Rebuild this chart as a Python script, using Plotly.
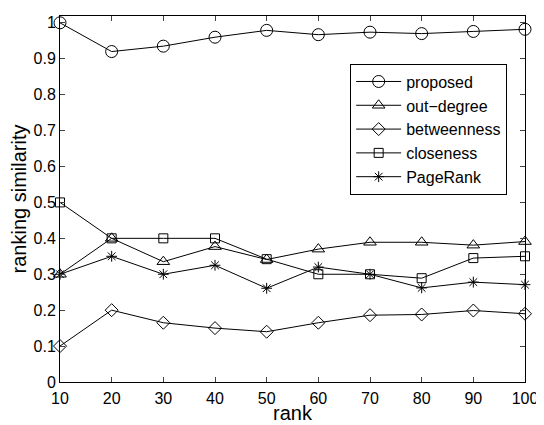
import plotly.graph_objects as go

ranks = [10, 20, 30, 40, 50, 60, 70, 80, 90, 100]
proposed = [1.0, 0.920, 0.935, 0.960, 0.979, 0.967, 0.974, 0.970, 0.976, 0.982]
out_degree = [0.30, 0.40, 0.335, 0.377, 0.341, 0.370, 0.389, 0.389, 0.381, 0.391]
betweenness = [0.10, 0.20, 0.165, 0.150, 0.140, 0.165, 0.186, 0.188, 0.199, 0.190]
closeness = [0.50, 0.40, 0.40, 0.40, 0.342, 0.30, 0.30, 0.289, 0.345, 0.350]
pagerank = [0.30, 0.35, 0.30, 0.325, 0.261, 0.320, 0.30, 0.262, 0.278, 0.271]

x_ticks = [10, 20, 30, 40, 50, 60, 70, 80, 90, 100]
y_ticks = [0, 0.1, 0.2, 0.3, 0.4, 0.5, 0.6, 0.7, 0.8, 0.9, 1]
y_tick_labels = ["0", "0.1", "0.2", "0.3", "0.4", "0.5", "0.6", "0.7", "0.8", "0.9", "1"]

series = [
    ("proposed", proposed, "circle-open", 12),
    ("out\u2212degree", out_degree, "triangle-up-open", 11),
    ("betweenness", betweenness, "diamond-open", 10),
    ("closeness", closeness, "square-open", 9),
    ("PageRank", pagerank, "asterisk-open", 9),
]

fig = go.Figure()
for name, vals, sym, size in series:
    fig.add_trace(go.Scatter(
        x=ranks, y=vals, name=name, mode="lines+markers",
        line=dict(color="black", width=1),
        marker=dict(symbol=sym, size=size, color="black",
                    line=dict(color="black", width=1)),
        cliponaxis=False,
    ))

font = "Liberation Sans, Arial, Helvetica, sans-serif"
# The page body keeps its default 8px margin, so the figure is 8px smaller
# and the margins are shifted to keep the plot area where the reference has it.
fig.update_layout(
    width=536, height=417,
    margin=dict(l=52, r=16, t=6, b=43),
    paper_bgcolor="white", plot_bgcolor="white",
    font=dict(family=font, size=16, color="black"),
    showlegend=True,
    legend=dict(
        x=0.624, y=0.87, xanchor="left", yanchor="top",
        bordercolor="black", borderwidth=1, bgcolor="white",
        font=dict(size=16, family=font), tracegroupgap=0,
        itemwidth=45,
    ),
    xaxis=dict(
        range=[10, 100], tickvals=x_ticks, ticks="inside", ticklen=5,
        showline=True, linecolor="black", linewidth=1, mirror="ticks",
        showgrid=False, zeroline=False, ticklabelstandoff=2,
        tickfont=dict(size=16),
    ),
    yaxis=dict(
        range=[0, 1.019], tickvals=y_ticks, ticktext=y_tick_labels,
        ticks="inside", ticklen=5,
        showline=True, linecolor="black", linewidth=1, mirror="ticks",
        showgrid=False, zeroline=False,
        title=dict(text="ranking similarity", font=dict(size=20), standoff=2),
        tickfont=dict(size=16),
    ),
    annotations=[dict(
        text="rank", xref="paper", yref="paper", x=0.5, y=-0.084,
        xanchor="center", yanchor="middle", showarrow=False,
        font=dict(size=20, family=font, color="black"),
    )],
)

fig.write_html("out.html")
